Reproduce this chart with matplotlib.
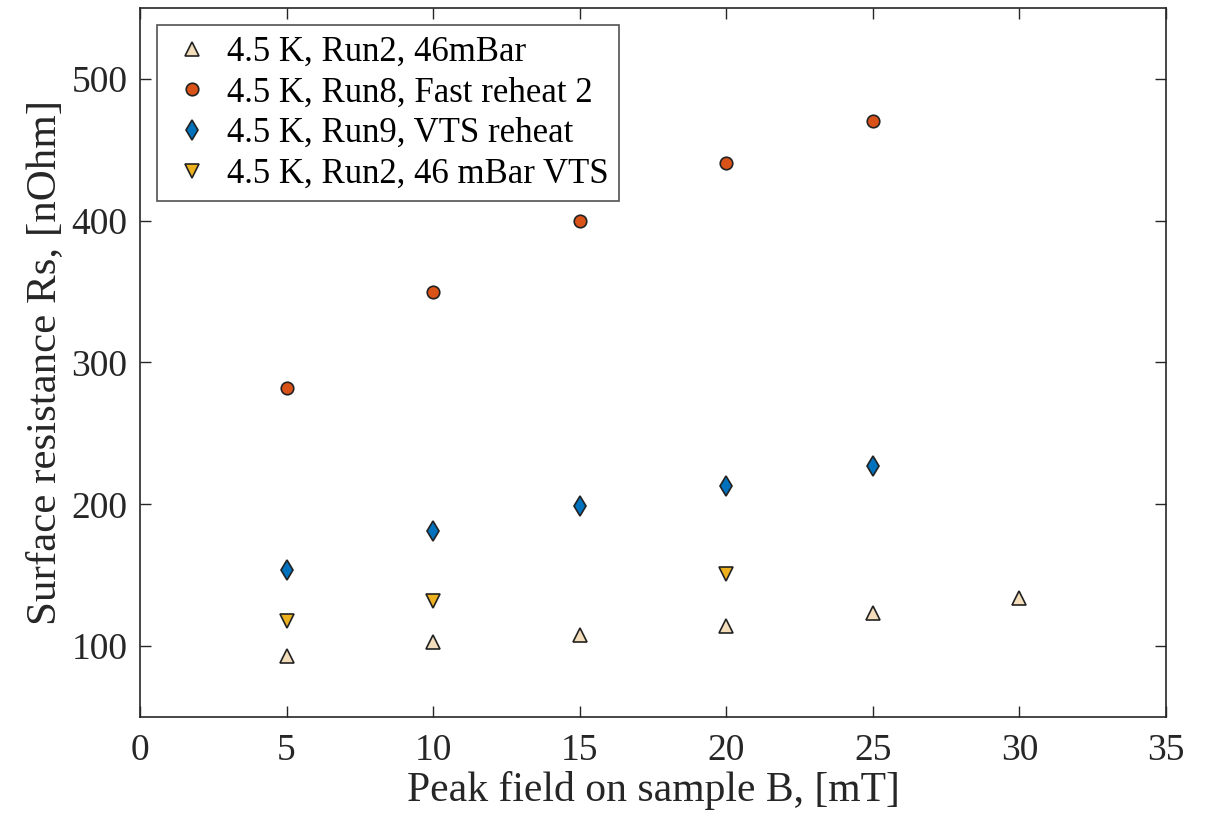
import matplotlib.pyplot as plt

plt.rcParams['font.family'] = ['Liberation Serif', 'DejaVu Serif']

# data
x_run2 = [5, 10, 15, 20, 25, 30]
y_run2 = [93, 103, 108, 114, 123, 134]

x_run8 = [5, 10, 15, 20, 25]
y_run8 = [282, 350, 400, 441, 470]

x_run9 = [5, 10, 15, 20, 25]
y_run9 = [154, 181, 199, 213, 227]

x_vts = [5, 10, 20]
y_vts = [118, 132, 151]

labels = [
    "4.5 K, Run2, 46mBar",
    "4.5 K, Run8, Fast reheat 2",
    "4.5 K, Run9, VTS reheat",
    "4.5 K, Run2, 46 mBar VTS",
]

fig = plt.figure(figsize=(12.12, 8.27), dpi=100)
ax = fig.add_axes([140 / 1212, 1 - 717 / 827, 1026 / 1212, 709 / 827])

kw = dict(linestyle="none", markeredgecolor="#222222", markeredgewidth=1.2)
ax.plot(x_run2, y_run2, marker="^", markersize=9.5, markerfacecolor="#F3DDBB", label=labels[0], **kw)
ax.plot(x_run8, y_run8, marker="o", markersize=9, markerfacecolor="#D95319", label=labels[1], **kw)
ax.plot(x_run9, y_run9, marker="d", markersize=10, markerfacecolor="#0072BD", label=labels[2], **kw)
ax.plot(x_vts, y_vts, marker="v", markersize=9.5, markerfacecolor="#EDB120", label=labels[3], **kw)

ax.set_xlim(0, 35)
ax.set_ylim(50, 550)
ax.set_xticks(range(0, 36, 5))
ax.set_yticks([100, 200, 300, 400, 500])
ax.tick_params(direction="in", top=True, right=True, length=8, width=1,
               labelsize=27, colors="#262626")
ax.tick_params(axis="x", pad=12)
ax.tick_params(axis="y", pad=9)
for s in ax.spines.values():
    s.set_linewidth(1.2)
    s.set_color("#262626")

ax.set_xlabel("Peak field on sample B, [mT]", fontsize=30, color="#262626", labelpad=2)
ax.set_ylabel("Surface resistance Rs, [nOhm]", fontsize=31, color="#262626", labelpad=5)

leg = ax.legend(loc="upper left", fontsize=25, frameon=True, fancybox=False,
                edgecolor="#262626", handletextpad=0.3, borderpad=0.3,
                labelspacing=0.22, handlelength=1.4, borderaxespad=0.5)
leg.get_frame().set_linewidth(1.2)

fig.savefig("out.png", dpi=100)
